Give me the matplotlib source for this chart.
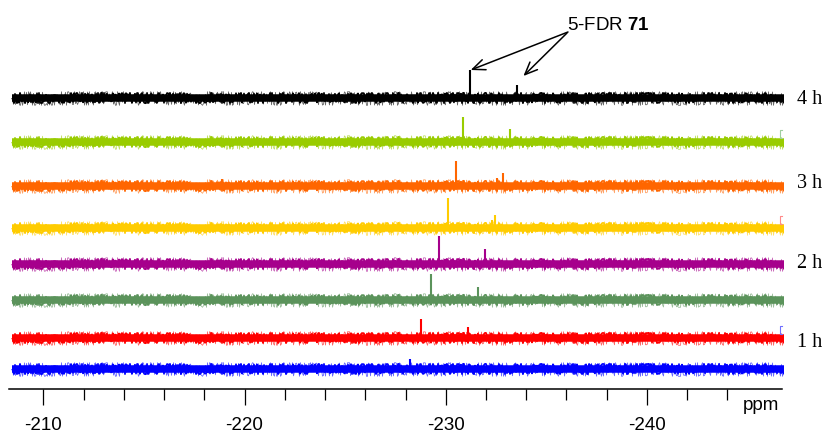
import numpy as np
import matplotlib
matplotlib.use("Agg")
import matplotlib.pyplot as plt
from matplotlib.ticker import FixedLocator, FormatStrFormatter

plt.rcParams["axes.unicode_minus"] = False
plt.rcParams["mathtext.fontset"] = "custom"
plt.rcParams["mathtext.rm"] = "Liberation Sans"
plt.rcParams["mathtext.bf"] = "Liberation Sans:bold"

# 19F spectra, latest time point on top
time_labels = ["4 h", "", "3 h", "", "2 h", "", "1 h", ""]
trace_colors = ["#000000", "#99cc00", "#ff6600", "#ffcc00",
                "#a6008c", "#5b935b", "#ff0000", "#0000ff"]

# resolved signals of each spectrum: chemical shift (ppm) and intensity
peak_ppm = [
    [-231.21, -233.53],
    [-230.84, -233.18],
    [-230.53, -232.86, -232.56, -218.88],
    [-230.13, -232.47, -232.32],
    [-229.65, -231.97],
    [-229.25, -231.60],
    [-228.76, -231.11],
    [-228.20],
]
peak_int = [
    [28, 13],
    [25, 13],
    [25, 13, 8, 7],
    [30, 13, 8],
    [28, 15],
    [26, 13],
    [19, 11],
    [10],
]

# spectral window recorded for every trace
window_ppm = (-208.44, -246.81)

# vertical stacking of the traces (plot units)
stack_level = [291, 247.5, 203.5, 161.5, 125, 89.5, 51.5, 20.5]
label_nudge = [-1, 0, 2, 0, 1, 0, -5, 0]

W, H = 827, 434
fig = plt.figure(figsize=(W / 100, H / 100), dpi=100)
ax = fig.add_axes([9.3 / W, 45 / H, (784 - 9.3) / W, 389 / H])
ax.set_xlim(-208.31, -246.81)
ax.set_ylim(0, 389)

for i, col in enumerate(trace_colors):
    base = stack_level[i]
    # baseline noise band: solid core with a jittered fringe
    ax.plot(window_ppm, [base, base], color=col, lw=5.4,
            solid_capstyle="butt")
    halo, = ax.plot(window_ppm, [base, base], color=col, lw=0.6,
                    alpha=0.6, solid_capstyle="butt")
    halo.set_sketch_params(scale=6.8, length=0.12, randomness=25)
    fringe, = ax.plot(window_ppm, [base, base], color=col, lw=1.2,
                      solid_capstyle="butt")
    fringe.set_sketch_params(scale=5.2, length=0.15, randomness=15)
    # signals
    ax.vlines(peak_ppm[i], base, np.array(peak_int[i]) + base,
              color=col, lw=1.5)
    if time_labels[i]:
        ax.annotate(time_labels[i], xy=(1.0, base + label_nudge[i]),
                    xycoords=("axes fraction", "data"),
                    xytext=(9.4, 0), textcoords="offset points",
                    ha="left", va="center",
                    family="Liberation Serif", fontsize=14.5,
                    annotation_clip=False)

# small region markers at the right end of three traces
for i, col in [(1, "#9fcf9f"), (3, "#ff8a8a"), (6, "#7070ff")]:
    y0 = stack_level[i] + 8
    ax.plot([-246.72, -246.62, -246.62, -246.72],
            [y0 - 4, y0 - 4, y0 + 4, y0 + 4],
            color=col, lw=0.8, clip_on=False)

# axis styling
for s in ("top", "left", "right"):
    ax.spines[s].set_visible(False)
ax.spines["bottom"].set_bounds(-208.31, -246.71)
ax.spines["bottom"].set_linewidth(1.1)
ax.yaxis.set_visible(False)
ax.xaxis.set_major_locator(FixedLocator([-210, -220, -230, -240]))
ax.xaxis.set_minor_locator(FixedLocator(
    [v for v in range(-244, -210, 2) if v % 10 != 0]))
ax.xaxis.set_major_formatter(FormatStrFormatter("%d"))
ax.tick_params(axis="x", which="major", direction="out", length=11.5,
               width=0.9, pad=8.5, labelsize=13.5)
ax.tick_params(axis="x", which="minor", direction="out", length=8,
               width=0.9)
for t in ax.get_xticklabels():
    t.set_family("Liberation Sans")

fig.text(779 / W, 1 - 410 / H, "ppm", ha="right", va="baseline",
         family="Liberation Sans", fontsize=13.5)

# assignment of the product signals in the last spectrum
fig.text(567 / W, 1 - 29.5 / H, r"5-FDR $\mathbf{71}$", ha="left",
         va="baseline", family="Liberation Sans", fontsize=13.5)
top0 = stack_level[0] + peak_int[0][0]
top1 = stack_level[0] + peak_int[0][1]
arrow = dict(arrowstyle="->,head_length=0.75,head_width=0.32",
             lw=1.1, color="black", mutation_scale=12, shrinkA=0, shrinkB=0)
ax.annotate("", xy=(peak_ppm[0][0] - 0.03, top0), xytext=(568, H - 32),
            textcoords="figure pixels", arrowprops=arrow)
ax.annotate("", xy=(peak_ppm[0][1] - 0.33, top1 + 9), xytext=(567, H - 33),
            textcoords="figure pixels", arrowprops=arrow)

fig.savefig("out.png", dpi=100)
